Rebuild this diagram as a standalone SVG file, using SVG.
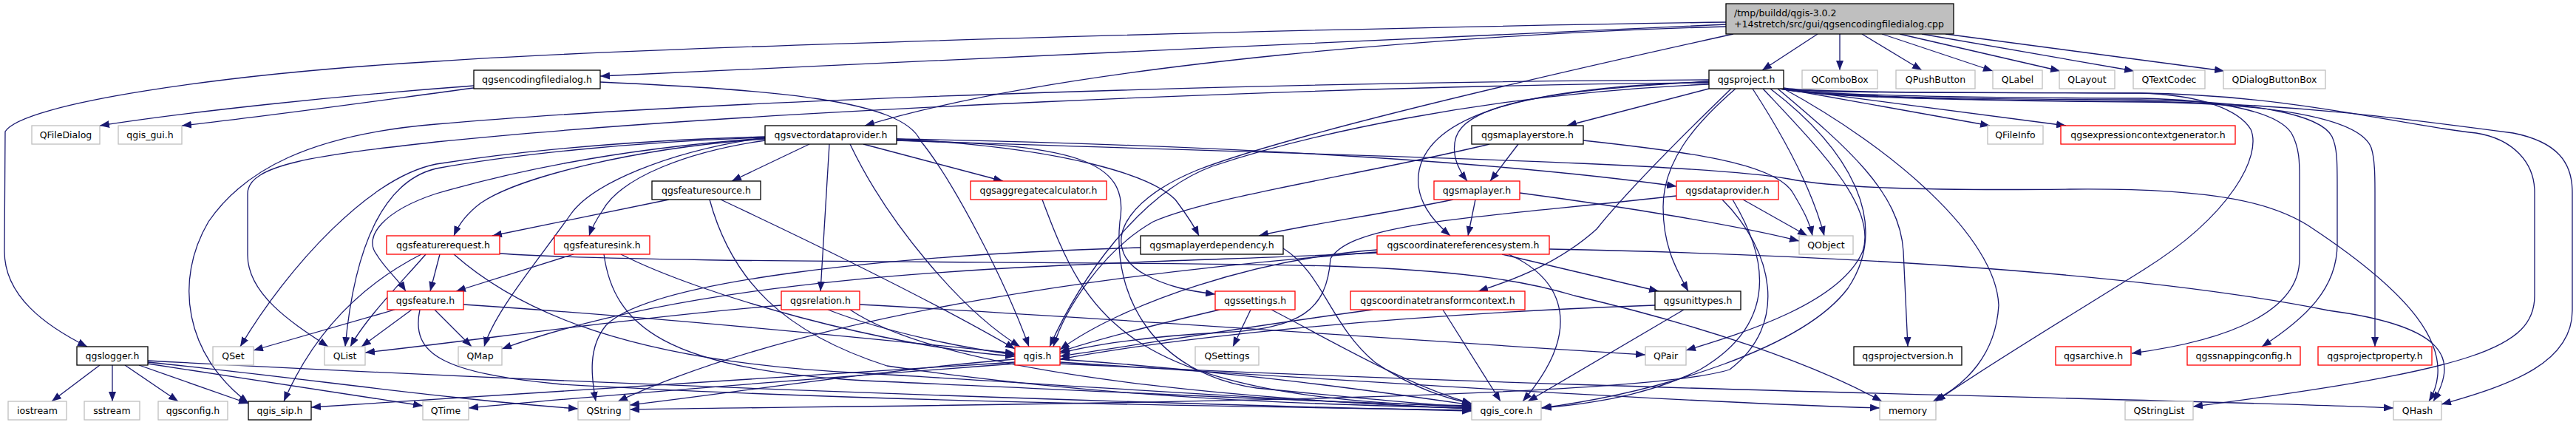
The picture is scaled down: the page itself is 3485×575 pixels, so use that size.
<svg xmlns="http://www.w3.org/2000/svg" width="3485" height="575" viewBox="0 0 3485 575">
<style>
.e{fill:none;stroke:#191970;stroke-width:1.3;marker-end:url(#a)}
rect{fill:#fff;stroke-width:1.3}
.k rect{stroke:#000}
.g rect{stroke:#bfbfbf}
.r rect{stroke:#ff0000}
text{font-family:"DejaVu Sans",sans-serif;font-size:12.5px;fill:#000;text-anchor:middle}
</style>
<defs>
<marker id="a" viewBox="0 0 13 10" refX="13" refY="5" markerWidth="13" markerHeight="10" markerUnits="userSpaceOnUse" orient="auto"><path d="M0,0L13,5L0,10z" fill="#191970"/></marker>
</defs>
<rect x="0" y="0" width="3485" height="575" style="fill:#fff;stroke:none"/>
<g id="edges">
<path class="e" d="M2335,33 C1900,50 1200,88 812,103"/>
<path class="e" d="M2459,46 L2384,95"/>
<path class="e" d="M2489,46 L2489,95"/>
<path class="e" d="M2519,46 L2600,95"/>
<path class="e" d="M2546,46 L2696,96"/>
<path class="e" d="M2570,46 L2787,96"/>
<path class="e" d="M2600,46 L2887,96"/>
<path class="e" d="M2632,46 L3009,96"/>
<path class="e" d="M2335,30 C1800,38 900,62 590,83 C300,100 30,140 7,178 L6,340 C6,400 60,440 118,469"/>
<path class="e" d="M2335,36 C2000,45 1450,85 1170,170"/>
<path class="e" d="M2345,46 C2100,100 1750,180 1620,230 C1510,275 1490,340 1550,372 C1580,388 1610,394 1644,398"/>
<path class="e" d="M641,116 C450,130 250,152 135,170"/>
<path class="e" d="M641,119 C520,135 380,155 246,170"/>
<path class="e" d="M812,111 C1050,122 1220,135 1245,190 C1290,245 1360,380 1392,469"/>
<path class="e" d="M2312,108 C1800,110 1000,132 590,168 C420,182 330,230 282,300 C235,380 250,480 336,545"/>
<path class="e" d="M2312,112 C1800,116 1000,150 590,192 C430,210 335,222 335,262 L335,345 C335,400 400,440 444,469"/>
<path class="e" d="M2312,120 L2120,170"/>
<path class="e" d="M2312,110 C2100,122 1985,140 1970,185 C1962,210 1975,232 1985,245"/>
<path class="e" d="M2312,111 C2050,118 1935,160 1920,230 C1912,270 1940,300 1962,319"/>
<path class="e" d="M2312,114 C2000,128 1760,185 1640,225 C1540,262 1460,380 1420,469"/>
<path class="e" d="M2342,120 C2280,180 2200,260 2160,310 C2110,355 2050,378 2000,394"/>
<path class="e" d="M2348,120 C2290,170 2250,220 2250,280 C2250,330 2265,360 2284,394"/>
<path class="e" d="M2371,120 C2410,180 2450,250 2468,319"/>
<path class="e" d="M2385,120 C2460,200 2540,280 2520,340 C2490,410 2360,450 2281,474"/>
<path class="e" d="M2395,120 C2500,200 2560,300 2500,390 C2440,470 2250,530 2085,552"/>
<path class="e" d="M2405,120 C2500,200 2570,260 2575,340 C2578,400 2580,440 2581,469"/>
<path class="e" d="M2413,120 C2560,200 2700,320 2704,413 C2700,480 2660,520 2615,543"/>
<path class="e" d="M2413,120 L2692,170"/>
<path class="e" d="M2413,120 L2795,170"/>
<path class="e" d="M2408,120 C2450,128 2600,132 2895,133 C3000,135 3080,150 3100,180 C3111,200 3111,220 3111,240 L3111,350 C3111,420 3020,460 2884,478"/>
<path class="e" d="M2409,120 C2450,129 2600,134 2895,135 C3050,137 3140,155 3155,185 C3162,200 3162,220 3162,250 L3162,330 C3162,390 3120,430 3060,469"/>
<path class="e" d="M2410,120 C2450,130 2600,136 2895,138 C3100,140 3195,165 3208,200 C3213,215 3213,240 3213,260 L3213,469"/>
<path class="e" d="M2411,120 C2450,126 2600,125 2895,126 C3100,128 3250,170 3350,180 C3400,188 3429,220 3429,260 L3429,400 C3429,470 3350,500 2967,550"/>
<path class="e" d="M2412,120 C2450,128 2600,136 2895,137 C3100,140 3250,160 3400,180 C3460,192 3480,220 3480,260 L3480,420 C3480,490 3400,520 3303,547"/>
<path class="e" d="M2413,119 C2450,125 2600,125 2895,126 C2980,128 3030,150 3045,175 C3060,210 3020,290 2900,365 C2780,440 2680,500 2619,543"/>
<path class="e" d="M1095,195 L990,245"/>
<path class="e" d="M1168,195 L1357,245"/>
<path class="e" d="M1122,195 L1110,394"/>
<path class="e" d="M1035,190 C930,205 840,240 815,285 C805,300 800,310 797,319"/>
<path class="e" d="M1035,188 C860,200 700,240 650,275 C630,290 620,305 614,319"/>
<path class="e" d="M1035,186 C900,205 800,250 772,290 C730,350 670,420 655,469"/>
<path class="e" d="M1035,185 C850,190 700,205 590,222 C500,240 390,360 325,469"/>
<path class="e" d="M1035,186 C850,192 690,210 590,228 C520,245 480,330 467,469"/>
<path class="e" d="M1035,187 C850,200 700,230 590,262 C520,285 490,320 510,345 C520,362 540,380 549,394"/>
<path class="e" d="M1150,195 C1200,300 1300,420 1380,469"/>
<path class="e" d="M1213,190 C1450,195 1530,215 1515,300 C1505,400 1560,505 1700,525 C1850,540 1940,548 1991,551"/>
<path class="e" d="M1213,188 C1450,200 1560,240 1590,270 C1605,290 1615,305 1622,319"/>
<path class="e" d="M1213,188 C1600,195 2000,215 2268,252"/>
<path class="e" d="M1213,190 C1800,210 2300,220 2420,242 C2480,254 2600,258 2800,256 C3000,254 3080,275 3130,310 C3250,390 3330,470 3286,543"/>
<path class="e" d="M905,270 L666,319"/>
<path class="e" d="M975,270 C1060,310 1250,400 1373,472"/>
<path class="e" d="M960,270 C990,380 1060,450 1200,495 C1500,540 1800,548 1991,552"/>
<path class="e" d="M595,344 L582,394"/>
<path class="e" d="M576,344 C545,380 495,430 474,469"/>
<path class="e" d="M570,344 C480,390 420,460 384,543"/>
<path class="e" d="M614,344 C700,420 850,490 1170,505 C1500,525 1800,545 1991,553"/>
<path class="e" d="M676,343 C900,358 1500,352 1800,360 C2000,366 2080,385 2130,400 C2300,440 2450,490 2546,543"/>
<path class="e" d="M534,419 L343,474"/>
<path class="e" d="M557,419 L489,469"/>
<path class="e" d="M588,419 L638,469"/>
<path class="e" d="M627,412 C900,430 1200,460 1373,478"/>
<path class="e" d="M568,419 C555,480 600,505 760,520 C1200,545 1700,550 1991,555"/>
<path class="e" d="M776,344 L617,394"/>
<path class="e" d="M840,344 C950,400 1200,470 1373,482"/>
<path class="e" d="M817,344 C830,440 900,500 1170,515 C1500,530 1800,545 1991,549"/>
<path class="e" d="M1057,413 C850,430 650,460 494,477"/>
<path class="e" d="M1120,419 C1200,450 1300,470 1373,480"/>
<path class="e" d="M1150,419 C1300,520 1800,545 1991,553"/>
<path class="e" d="M1163,412 C1500,430 1900,460 2226,480"/>
<path class="e" d="M1692,419 L1668,469"/>
<path class="e" d="M1650,419 C1560,440 1480,460 1434,476"/>
<path class="e" d="M1720,419 C1800,460 1900,520 1991,546"/>
<path class="e" d="M1952,419 L2030,543"/>
<path class="e" d="M1857,419 C1700,440 1550,465 1434,482"/>
<path class="e" d="M2278,419 L2067,543"/>
<path class="e" d="M2239,413 C1900,425 1600,455 1434,486"/>
<path class="e" d="M2032,344 L2244,394"/>
<path class="e" d="M2041,344 C2120,380 2140,450 2060,543"/>
<path class="e" d="M1863,338 C1700,350 1520,410 1434,473"/>
<path class="e" d="M2096,337 C2500,345 2900,370 3150,420 C3300,440 3330,480 3292,543"/>
<path class="e" d="M1863,341 C1550,365 1100,420 836,543"/>
<path class="e" d="M1863,342 C1500,360 1000,355 679,472"/>
<path class="e" d="M1543,335 C1200,345 880,380 820,440 C795,470 800,510 806,543"/>
<path class="e" d="M1736,336 C1790,370 1800,440 1860,490 C1910,525 1960,540 1991,546"/>
<path class="e" d="M1996,270 L1986,319"/>
<path class="e" d="M1966,270 C1870,290 1760,305 1703,319"/>
<path class="e" d="M2056,261 C2200,280 2350,305 2434,326"/>
<path class="e" d="M2054,195 L2016,245"/>
<path class="e" d="M2142,190 C2280,205 2400,220 2425,260 C2440,285 2448,300 2452,319"/>
<path class="e" d="M2015,195 C1850,235 1640,265 1560,300 C1490,340 1440,420 1425,469"/>
<path class="e" d="M2358,270 L2445,319"/>
<path class="e" d="M2344,270 C2380,330 2420,430 2300,500 C2220,540 2130,548 2086,552"/>
<path class="e" d="M2330,270 C2400,340 2420,440 2340,500 C2200,545 1200,548 852,554"/>
<path class="e" d="M2268,265 C2000,295 1830,300 1800,350 C1795,420 1760,445 1650,450 C1550,455 1470,468 1434,478"/>
<path class="e" d="M1434,486 C1700,505 1900,535 1991,548"/>
<path class="e" d="M1434,490 C1900,520 2300,545 2543,552"/>
<path class="e" d="M1373,486 C1200,500 1000,530 852,548"/>
<path class="e" d="M1373,490 C1000,515 650,535 421,551"/>
<path class="e" d="M1434,492 C2200,530 2900,538 3238,552"/>
<path class="e" d="M1373,492 C1000,520 800,536 634,552"/>
<path class="e" d="M135,494 L70,543"/>
<path class="e" d="M152,494 L152,543"/>
<path class="e" d="M169,494 L241,543"/>
<path class="e" d="M188,494 L336,546"/>
<path class="e" d="M200,492 L572,549"/>
<path class="e" d="M200,490 C400,510 600,540 782,553"/>
<path class="e" d="M200,488 C800,520 1500,545 1991,556"/>
<path class="e" d="M1410,270 C1470,430 1520,540 1991,550"/>
</g>
<g id="n_root"><rect x="2335" y="5" width="308" height="41" style="fill:#bfbfbf;stroke:#000"/><text x="2346" y="21.5" style="text-anchor:start">/tmp/buildd/qgis-3.0.2</text><text x="2346" y="36.5" style="text-anchor:start">+14stretch/src/gui/qgsencodingfiledialog.cpp</text></g>
<g id="n_encdlg" class="k"><rect x="641" y="95" width="171" height="25"/><text x="726.5" y="112">qgsencodingfiledialog.h</text></g>
<g id="n_project" class="k"><rect x="2312" y="95" width="101" height="25"/><text x="2362.5" y="112">qgsproject.h</text></g>
<g id="n_qcombobox" class="g"><rect x="2438" y="95" width="102" height="25"/><text x="2489" y="112">QComboBox</text></g>
<g id="n_qpushbutton" class="g"><rect x="2565" y="95" width="107" height="25"/><text x="2618.5" y="112">QPushButton</text></g>
<g id="n_qlabel" class="g"><rect x="2696" y="95" width="67" height="25"/><text x="2729.5" y="112">QLabel</text></g>
<g id="n_qlayout" class="g"><rect x="2786" y="95" width="75" height="25"/><text x="2823.5" y="112">QLayout</text></g>
<g id="n_qtextcodec" class="g"><rect x="2886" y="95" width="97" height="25"/><text x="2934.5" y="112">QTextCodec</text></g>
<g id="n_qdialogbuttonbox" class="g"><rect x="3008" y="95" width="138" height="25"/><text x="3077" y="112">QDialogButtonBox</text></g>
<g id="n_qfiledialog" class="g"><rect x="43" y="170" width="92" height="25"/><text x="89" y="187">QFileDialog</text></g>
<g id="n_qgis_gui" class="g"><rect x="160" y="170" width="86" height="25"/><text x="203" y="187">qgis_gui.h</text></g>
<g id="n_vdp" class="k"><rect x="1035" y="170" width="178" height="25"/><text x="1124" y="187">qgsvectordataprovider.h</text></g>
<g id="n_maplayerstore" class="k"><rect x="1991" y="170" width="151" height="25"/><text x="2066.5" y="187">qgsmaplayerstore.h</text></g>
<g id="n_qfileinfo" class="g"><rect x="2689" y="170" width="75" height="25"/><text x="2726.5" y="187">QFileInfo</text></g>
<g id="n_exprctxgen" class="r"><rect x="2788" y="170" width="236" height="25"/><text x="2906" y="187">qgsexpressioncontextgenerator.h</text></g>
<g id="n_featuresource" class="k"><rect x="882" y="245" width="147" height="25"/><text x="955.5" y="262">qgsfeaturesource.h</text></g>
<g id="n_aggcalc" class="r"><rect x="1313" y="245" width="184" height="25"/><text x="1405" y="262">qgsaggregatecalculator.h</text></g>
<g id="n_maplayer" class="r"><rect x="1940" y="245" width="116" height="25"/><text x="1998" y="262">qgsmaplayer.h</text></g>
<g id="n_dataprovider" class="r"><rect x="2268" y="245" width="138" height="25"/><text x="2337" y="262">qgsdataprovider.h</text></g>
<g id="n_featurerequest" class="r"><rect x="523" y="319" width="153" height="25"/><text x="599.5" y="336">qgsfeaturerequest.h</text></g>
<g id="n_featuresink" class="r"><rect x="750" y="319" width="129" height="25"/><text x="814.5" y="336">qgsfeaturesink.h</text></g>
<g id="n_maplayerdep" class="k"><rect x="1543" y="319" width="193" height="25"/><text x="1639.5" y="336">qgsmaplayerdependency.h</text></g>
<g id="n_crs" class="r"><rect x="1863" y="319" width="233" height="25"/><text x="1979.5" y="336">qgscoordinatereferencesystem.h</text></g>
<g id="n_qobject" class="g"><rect x="2434" y="319" width="73" height="25"/><text x="2470.5" y="336">QObject</text></g>
<g id="n_feature" class="r"><rect x="524" y="394" width="103" height="25"/><text x="575.5" y="411">qgsfeature.h</text></g>
<g id="n_relation" class="r"><rect x="1057" y="394" width="106" height="25"/><text x="1110" y="411">qgsrelation.h</text></g>
<g id="n_settings" class="r"><rect x="1644" y="394" width="108" height="25"/><text x="1698" y="411">qgssettings.h</text></g>
<g id="n_ctc" class="r"><rect x="1827" y="394" width="236" height="25"/><text x="1945" y="411">qgscoordinatetransformcontext.h</text></g>
<g id="n_unittypes" class="k"><rect x="2239" y="394" width="116" height="25"/><text x="2297" y="411">qgsunittypes.h</text></g>
<g id="n_logger" class="k"><rect x="104" y="469" width="96" height="25"/><text x="152" y="486">qgslogger.h</text></g>
<g id="n_qset" class="g"><rect x="288" y="469" width="55" height="25"/><text x="315.5" y="486">QSet</text></g>
<g id="n_qlist" class="g"><rect x="439" y="469" width="55" height="25"/><text x="466.5" y="486">QList</text></g>
<g id="n_qmap" class="g"><rect x="620" y="469" width="59" height="25"/><text x="649.5" y="486">QMap</text></g>
<g id="n_qgis" class="r"><rect x="1373" y="469" width="61" height="25"/><text x="1403.5" y="486">qgis.h</text></g>
<g id="n_qsettings" class="g"><rect x="1617" y="469" width="86" height="25"/><text x="1660" y="486">QSettings</text></g>
<g id="n_qpair" class="g"><rect x="2226" y="469" width="55" height="25"/><text x="2253.5" y="486">QPair</text></g>
<g id="n_projectversion" class="k"><rect x="2508" y="469" width="146" height="25"/><text x="2581" y="486">qgsprojectversion.h</text></g>
<g id="n_archive" class="r"><rect x="2781" y="469" width="102" height="25"/><text x="2832" y="486">qgsarchive.h</text></g>
<g id="n_snapping" class="r"><rect x="2959" y="469" width="153" height="25"/><text x="3035.5" y="486">qgssnappingconfig.h</text></g>
<g id="n_projectproperty" class="r"><rect x="3136" y="469" width="154" height="25"/><text x="3213" y="486">qgsprojectproperty.h</text></g>
<g id="n_iostream" class="g"><rect x="11" y="543" width="79" height="25"/><text x="50.5" y="560">iostream</text></g>
<g id="n_sstream" class="g"><rect x="114" y="543" width="75" height="25"/><text x="151.5" y="560">sstream</text></g>
<g id="n_qgsconfig" class="g"><rect x="214" y="543" width="94" height="25"/><text x="261" y="560">qgsconfig.h</text></g>
<g id="n_qgis_sip" class="k"><rect x="336" y="543" width="85" height="25"/><text x="378.5" y="560">qgis_sip.h</text></g>
<g id="n_qtime" class="g"><rect x="572" y="543" width="62" height="25"/><text x="603" y="560">QTime</text></g>
<g id="n_qstring" class="g"><rect x="782" y="543" width="70" height="25"/><text x="817" y="560">QString</text></g>
<g id="n_qgis_core" class="g"><rect x="1991" y="543" width="94" height="25"/><text x="2038" y="560">qgis_core.h</text></g>
<g id="n_memory" class="g"><rect x="2543" y="543" width="76" height="25"/><text x="2581" y="560">memory</text></g>
<g id="n_qstringlist" class="g"><rect x="2875" y="543" width="92" height="25"/><text x="2921" y="560">QStringList</text></g>
<g id="n_qhash" class="g"><rect x="3238" y="543" width="65" height="25"/><text x="3270.5" y="560">QHash</text></g>
</svg>
